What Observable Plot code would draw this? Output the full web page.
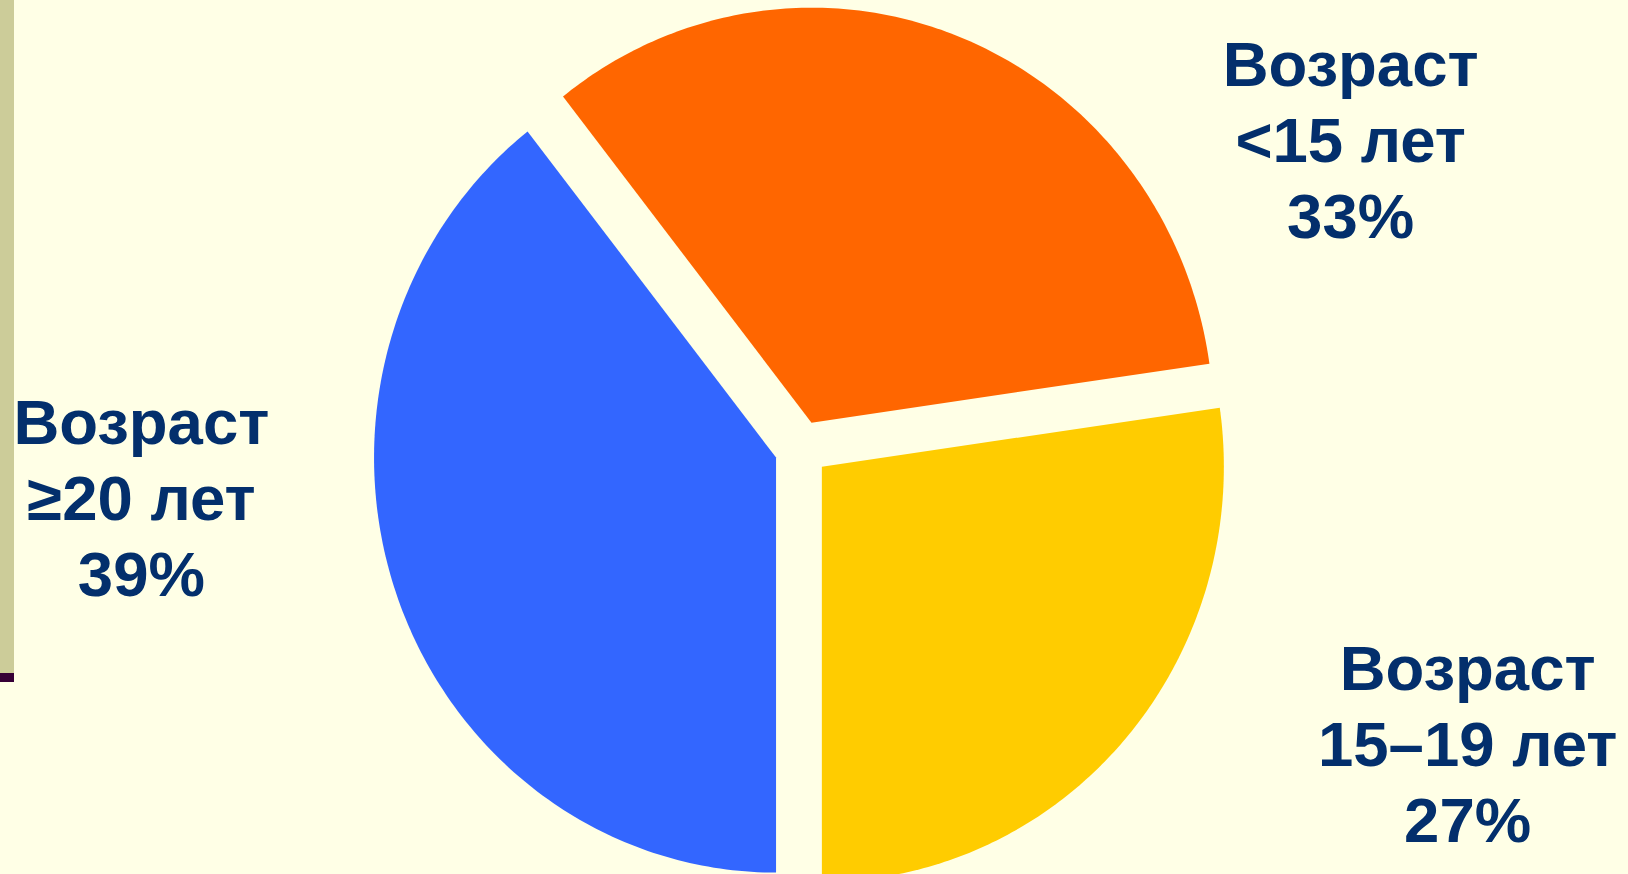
<!DOCTYPE html>
<html>
<head>
<meta charset="utf-8">
<script src="https://cdn.jsdelivr.net/npm/d3@7"></script>
<script src="https://cdn.jsdelivr.net/npm/@observablehq/plot@0.6"></script>
<style>
  html, body { margin: 0; padding: 0; background: #ffffe6; overflow: hidden; }
  #wrap { position: relative; width: 1628px; height: 874px; }
  #bar { position: absolute; left: 0; top: 0; width: 14px; height: 673px; background: #cccc99; }
  #mark { position: absolute; left: 0; top: 673px; width: 14px; height: 9px; background: #360036; }
  #chart svg { display: block; }
</style>
</head>
<body>
<div id="wrap">
  <div id="chart"></div>
  <div id="bar"></div>
  <div id="mark"></div>
</div>
<script>
// ---- data ----
const categories = ["Возраст <15 лет", "Возраст 15–19 лет", "Возраст ≥20 лет"];
const ageGroups = ["<15 лет", "15–19 лет", "≥20 лет"];
const shares = [33, 27, 39];
const colors = ["#ff6600", "#ffcc00", "#3366ff"];
// label anchor positions in pie units (radius = 1)
const labelX = [1.366, 1.657, -1.642];
const labelY = [0.75, -0.706, -0.114];

// ---- geometry from d3.pie ----
const total = d3.sum(shares);
const start = Math.PI - 2 * Math.PI * (shares[0] + shares[1]) / total;
const arcs = d3.pie().sort(null).startAngle(start).endAngle(start + 2 * Math.PI)(shares);
const explode = 0.067;
const points = [];
arcs.forEach((a, i) => {
  const mid = (a.startAngle + a.endAngle) / 2;
  const ox = explode * Math.sin(mid), oy = explode * Math.cos(mid);
  points.push({category: categories[i], x: ox, y: oy});
  const n = 160;
  for (let k = 0; k <= n; k++) {
    const t = a.startAngle + (a.endAngle - a.startAngle) * k / n;
    points.push({category: categories[i], x: ox + Math.sin(t), y: oy + Math.cos(t)});
  }
});
const labels = categories.map((c, i) => ({
  x: labelX[i], y: labelY[i],
  text: `Возраст\n${ageGroups[i]}\n${shares[i]}%`
}));

const chart = Plot.plot({
  width: 1628,
  height: 874,
  margin: 0,
  x: {domain: [-1, 1], range: [399, 1203], axis: null},
  y: {domain: [-1, 1], range: [863, 33], axis: null},
  color: {domain: categories, range: colors},
  style: {background: "transparent", overflow: "visible"},
  marks: [
    Plot.line(points, {x: "x", y: "y", z: "category", fill: "category", stroke: "none", curve: "linear-closed"}),
    Plot.text(labels, {
      x: "x", y: "y", text: "text",
      fill: "#032f6c",
      fontSize: 63.5,
      fontWeight: "bold",
      fontFamily: "'Liberation Sans', Arial, sans-serif",
      lineHeight: 1.197,
      textAnchor: "middle",
      lineAnchor: "middle"
    })
  ]
});
document.getElementById("chart").appendChild(chart);
</script>
</body>
</html>
